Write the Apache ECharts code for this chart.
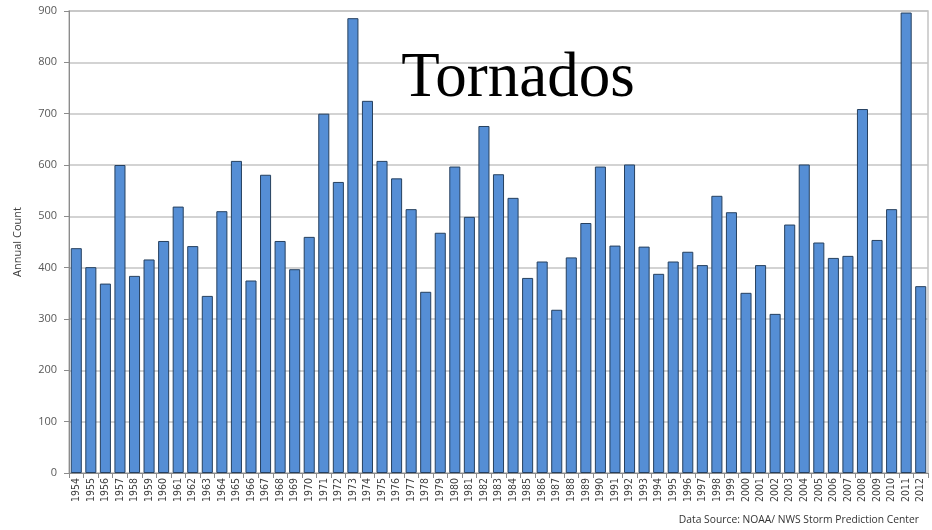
<!DOCTYPE html>
<html>
<head>
<meta charset="utf-8">
<script src="https://cdn.jsdelivr.net/npm/echarts@6/dist/echarts.min.js"></script>
<style>html,body{margin:0;padding:0;background:#fff}#c{width:932px;height:530px}</style>
</head>
<body>
<div id="c"></div>
<script>
var years = [];
for (var y = 1954; y <= 2012; y++) years.push(String(y));
var counts = [438,401,369,600,384,416,452,519,442,345,510,608,375,581,452,397,460,700,567,886,725,608,574,514,353,468,597,499,676,582,536,380,412,318,420,487,597,443,601,441,388,412,431,405,540,508,351,405,310,484,601,449,419,423,709,454,514,897,364];
var yTicks = [0,100,200,300,400,500,600,700,800,900];

var chart = echarts.init(document.getElementById('c'), null, {renderer:'canvas'});
chart.setOption({
  animation:false,
  backgroundColor:'#ffffff',
  title:{
    text:'Tornados', left:513, top:43, textAlign:'center',
    textStyle:{fontFamily:'Liberation Serif', fontSize:63, fontWeight:'normal', color:'#000'}
  },
  graphic:[{
    type:'text', right:13, top:515,
    style:{text:'Data Source: NOAA/ NWS Storm Prediction Center', font:'10.3px "Open Sans"', fill:'#333'}
  }],
  grid:{left:69, right:4, top:11, bottom:57, containLabel:false, show:true,
        borderColor:'#c4c4c4', borderWidth:1.5, backgroundColor:'transparent'},
  xAxis:{
    type:'category', data:years, boundaryGap:true,
    axisLine:{lineStyle:{color:'#8c8c8c', width:1}},
    axisTick:{show:true, alignWithLabel:false, length:5, interval:0, lineStyle:{color:'#8c8c8c'}},
    axisLabel:{rotate:90, interval:0, fontSize:10.5, color:'#404040', fontFamily:'DejaVu Sans Condensed, Liberation Sans', margin:5}
  },
  yAxis:{
    type:'value', min:0, max:900, interval:100,
    name:'Annual Count', nameLocation:'middle', nameGap:46, nameRotate:90,
    nameTextStyle:{fontSize:11, color:'#404040', fontFamily:'Open Sans'},
    axisLine:{show:true, lineStyle:{color:'#8c8c8c'}},
    axisTick:{show:true, length:5, lineStyle:{color:'#8c8c8c'}},
    axisLabel:{fontSize:11, color:'#595959', fontFamily:'Open Sans', margin:12,
      formatter:function(v){return yTicks.indexOf(v)>=0?String(v):'';}},
    splitLine:{show:true, lineStyle:{color:'#c4c4c4', width:1.5}}
  },
  series:[{
    type:'bar', data:counts, barWidth:'76%',
    itemStyle:{color:'#558ed5', borderColor:'#26405f', borderWidth:1}
  }]
});
</script>
</body>
</html>
